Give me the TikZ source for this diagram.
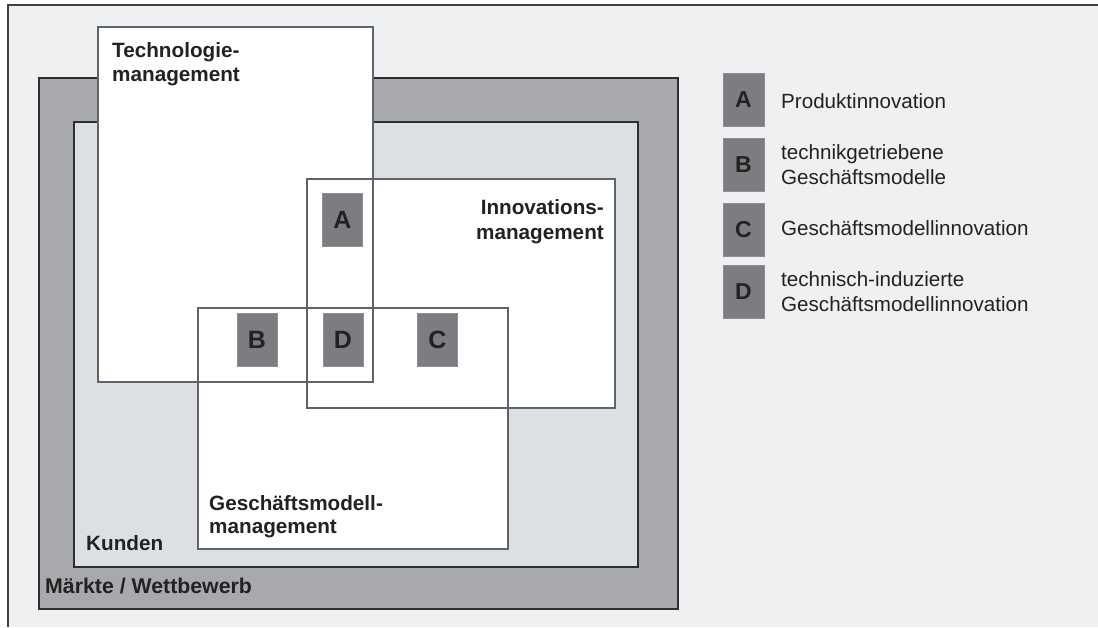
\documentclass[tikz,border=0pt]{standalone}
\usepackage{fontspec}
\setmainfont{Liberation Sans}
\definecolor{bgcol}{HTML}{EFF0F2}
\definecolor{framecol}{HTML}{404040}
\definecolor{marktcol}{HTML}{A8A9AC}
\definecolor{kundecol}{HTML}{DDE0E3}
\definecolor{edgecol}{HTML}{2E2E2E}
\definecolor{areacol}{HTML}{5E6469}
\definecolor{tagcol}{HTML}{7C7D80}
\definecolor{tagedge}{HTML}{8E8F92}
\definecolor{inkcol}{HTML}{222222}
\begin{document}
\begin{tikzpicture}[x=1pt,y=-1pt,
  ring/.style={draw=edgecol, line width=2.4pt},
  area/.style={draw=areacol, line width=1.8pt},
  lbl/.style={inner sep=0pt, anchor=base west, text=inkcol, font=\fontsize{20.7}{24}\selectfont\bfseries},
  lblr/.style={lbl, anchor=base east},
  tag/.style={fill=tagcol, draw=tagedge, line width=0.6pt, minimum width=40pt, minimum height=53pt, inner sep=0pt, text=inkcol, font=\fontsize{25}{30}\selectfont\bfseries},
  legtag/.style={tag, minimum width=41pt, font=\fontsize{23}{28}\selectfont\bfseries},
  legtxt/.style={inner sep=0pt, anchor=base west, text=inkcol, font=\fontsize{20.6}{24}\selectfont}]
\useasboundingbox (0,0) rectangle (1098,627);
% page and frame
\fill[white] (0,0) rectangle (1098,627);
\fill[bgcol] (8,5) rectangle (1098,627);
\draw[framecol, line width=2pt] (8,627) -- (8,5) -- (1098,5);
% markets and customers
\filldraw[ring, fill=marktcol] (39,78) rectangle (678,609);
\filldraw[ring, fill=kundecol] (74,122) rectangle (638,567);
% management areas: fills first, then all outlines
\fill[white] (98,27) rectangle (373,382);
\fill[white] (307,179) rectangle (615,408);
\fill[white] (198,308) rectangle (508,549);
\draw[area] (98,27) rectangle (373,382);
\draw[area] (307,179) rectangle (615,408);
\draw[area] (198,308) rectangle (508,549);
% area labels
\node[lbl] (tech1) at (112,57) {Technologie-};
\node[lbl] (tech2) at (112,81) {management};
\node[lblr] (inno1) at (604,214) {Innovations-};
\node[lblr] (inno2) at (604,239) {management};
\node[lbl] (gm1) at (209,510) {Geschäftsmodell-};
\node[lbl] (gm2) at (209,533) {management};
\node[lbl] (kunden) at (86,550) {Kunden};
\node[lbl, font=\fontsize{21.3}{24}\selectfont\bfseries] (markt) at (45,593) {Märkte / Wettbewerb};
% intersection tags
\node[tag] (tA) at (342.5,219.5) {A};
\node[tag] (tB) at (257,340) {B};
\node[tag] (tD) at (343,340) {D};
\node[tag] (tC) at (437.5,340) {C};
% legend
\node[legtag] (lA) at (743.5,100) {A};
\node[legtag] (lB) at (743.5,164.5) {B};
\node[legtag] (lC) at (743.5,229.5) {C};
\node[legtag] (lD) at (743.5,292) {D};
\node[legtxt] (xA) at (781,108) {Produktinnovation};
\node[legtxt] (xB1) at (781,159) {technikgetriebene};
\node[legtxt] (xB2) at (781,184) {Geschäftsmodelle};
\node[legtxt] (xC) at (781,235) {Geschäftsmodellinnovation};
\node[legtxt] (xD1) at (781,286) {technisch-induzierte};
\node[legtxt] (xD2) at (781,311) {Geschäftsmodellinnovation};
\end{tikzpicture}
\end{document}
